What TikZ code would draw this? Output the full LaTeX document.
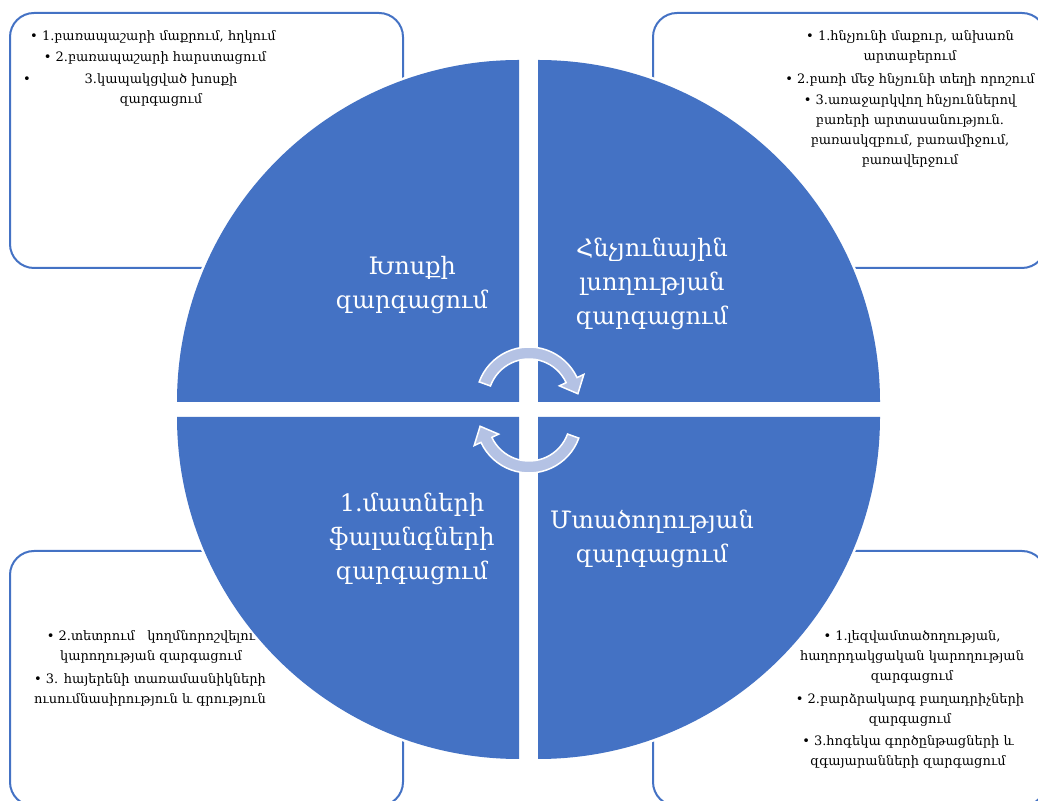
\documentclass[tikz,border=0pt]{standalone}
\usepackage{fontspec}
\setmainfont{DejaVu Serif}
\usetikzlibrary{calc}
\definecolor{qblue}{HTML}{4472C4}
\definecolor{arrowfill}{HTML}{B4C2E4}
\tikzset{
  quad/.style={fill=qblue},
  halo/.style={fill=white,draw=white,line width=5pt},
  sidebox/.style={draw=qblue,line width=2pt,rounded corners=24pt},
  bigtext/.style={text=white,align=center,font=\fontsize{24}{34}\selectfont,inner sep=0pt},
  smalltext/.style={text=black,align=center,font=\fontsize{13}{20}\selectfont,inner sep=0pt},
  cyclearrow/.style={fill=arrowfill,draw=white,line width=1.5pt,line join=miter},
}
\begin{document}
\begin{tikzpicture}[x=1pt,y=1pt]
\useasboundingbox (0,0) rectangle (1038,800);
% side boxes
\draw[sidebox] (10,532) rectangle (403,787);
\draw[sidebox] (653,532) rectangle (1046,787);
\draw[sidebox] (10,-6) rectangle (403,249);
\draw[sidebox] (653,-6) rectangle (1046,249);
% halos
\path[halo] (519,398) -- (177,398) arc[start angle=180,end angle=90,radius=342] -- cycle;
\path[halo] (538,398) -- (538,740) arc[start angle=90,end angle=0,radius=342] -- cycle;
\path[halo] (519,383) -- (177,383) arc[start angle=180,end angle=270,radius=342] -- cycle;
\path[halo] (538,383) -- (538,41) arc[start angle=270,end angle=360,radius=342] -- cycle;
% quadrants
\fill[quad] (519,398) -- (177,398) arc[start angle=180,end angle=90,radius=342] -- cycle;
\fill[quad] (538,398) -- (538,740) arc[start angle=90,end angle=0,radius=342] -- cycle;
\fill[quad] (519,383) -- (177,383) arc[start angle=180,end angle=270,radius=342] -- cycle;
\fill[quad] (538,383) -- (538,41) arc[start angle=270,end angle=360,radius=342] -- cycle;
% cycle arrows
\coordinate (C) at (529,400);
\draw[cyclearrow] ($(C)+(160:53)$) arc[start angle=160,end angle=25,radius=53]
  -- ($(C)+(25:60.5)$) -- ($(C)+(7.3:49.3)$) -- ($(C)+(25:33.5)$) -- ($(C)+(25:41)$)
  arc[start angle=25,end angle=160,radius=41] -- cycle;
\begin{scope}[rotate around={180:(529,390)}]
\coordinate (D) at (529,400);
\draw[cyclearrow] ($(D)+(160:53)$) arc[start angle=160,end angle=25,radius=53]
  -- ($(D)+(25:60.5)$) -- ($(D)+(7.3:49.3)$) -- ($(D)+(25:33.5)$) -- ($(D)+(25:41)$)
  arc[start angle=25,end angle=160,radius=41] -- cycle;
\end{scope}
% big labels
\node[bigtext] (qtl) at (412,515) {Խոսքի\\զարգացում};
\node[bigtext] (qtr) at (652,516) {Հնչյունային\\լսողության\\զարգացում};
\node[bigtext] (qbl) at (412,261) {1.մատների\\ֆալանգների\\զարգացում};
\node[bigtext] (qbr) at (652,261) {Մտածողության\\զարգացում};
% top-left box text
\node[smalltext] (t1) at (153,763) {• 1.բառապաշարի մաքրում, հղկում};
\node[smalltext] (t2) at (155,742) {• 2.բառապաշարի հարստացում};
\node[smalltext] (t3b) at (27,720) {•};
\node[smalltext] (t3) at (161,710) {3.կապակցված խոսքի\\զարգացում};
% top-right box text
\node[smalltext] (r1) at (910,753) {• 1.հնչյունի մաքուր, անխառն\\արտաբերում};
\node[smalltext] (r2) at (910,720) {• 2.բառի մեջ հնչյունի տեղի որոշում};
\node[smalltext] (r3) at (910,669) {• 3.առաջարկվող հնչյուններով\\բառերի արտասանություն.\\բառասկզբում, բառամիջում,\\բառավերջում};
% bottom-left box text
\node[smalltext] (l1) at (151,153) {• 2.տետրում\ \ \ կողմնորոշվելու\\կարողության զարգացում};
\node[smalltext] (l2) at (150,110) {• 3. հայերենի տառամասնիկների\\ուսումնասիրություն և գրություն};
% bottom-right box text
\node[smalltext] (b1) at (912,143) {• 1.լեզվամտածողության,\\հաղորդակցական կարողության\\զարգացում};
\node[smalltext] (b2) at (910,90) {• 2.բարձրակարգ բաղադրիչների\\զարգացում};
\node[smalltext] (b3) at (908,48) {• 3.հոգեկա գործընթացների և\\զգայարանների զարգացում};
\end{tikzpicture}
\end{document}
